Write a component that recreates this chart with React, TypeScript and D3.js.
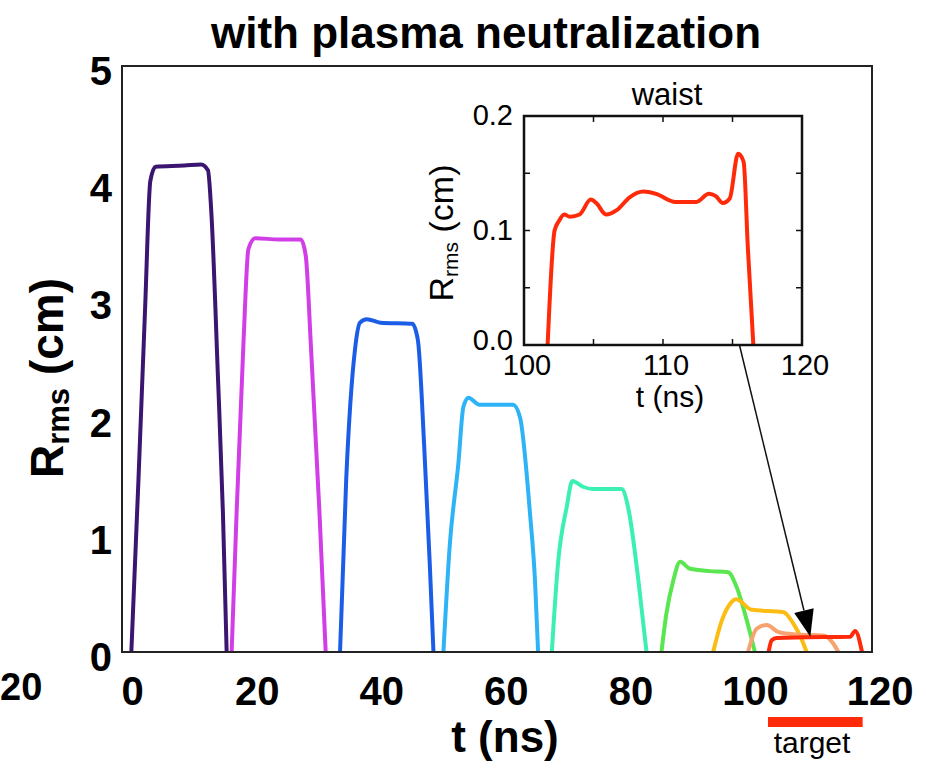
import * as d3 from "d3";

const W = 937;
const H = 763;

// beam radius snapshots along the drift, [t (ns), R_rms (cm)]
const pulse1 = [[-0.2, 0], [0.95, 1.48], [2.0, 2.92], [2.85, 4.02], [3.7, 4.14], [8.3, 4.15], [11.0, 4.16], [12.1, 4.11], [12.6, 3.79], [13.7, 2.35], [14.5, 1.19], [15.1, 0]];
const pulse2 = [[15.9, 0], [16.7, 1.19], [17.8, 2.64], [18.6, 3.44], [19.7, 3.53], [23.5, 3.52], [27.0, 3.52], [27.8, 3.38], [28.6, 2.64], [30.0, 1.19], [31.0, 0]];
const pulse3 = [[33.3, 0], [34.3, 1.48], [35.7, 2.58], [36.5, 2.81], [37.6, 2.84], [39.8, 2.81], [44.9, 2.8], [45.8, 2.66], [46.8, 1.77], [47.7, 0.76], [48.3, 0]];
const pulse4 = [[49.9, 0], [50.9, 0.9], [52.3, 1.61], [53.1, 2.09], [53.9, 2.17], [55.7, 2.11], [61.1, 2.11], [62.2, 2.0], [63.8, 1.18], [64.6, 0.61], [65.1, 0]];
const pulse5 = [[67.3, 0], [68.3, 0.76], [69.7, 1.24], [70.6, 1.46], [72.3, 1.41], [73.9, 1.39], [78.5, 1.39], [79.6, 1.22], [81.2, 0.61], [82.5, 0]];
const pulse6 = [[84.9, 0], [85.7, 0.33], [86.8, 0.61], [87.9, 0.77], [89.5, 0.71], [92.7, 0.69], [95.6, 0.68], [97.0, 0.55], [98.6, 0.27], [99.9, 0]];
const pulse7 = [[93.2, 0], [94.6, 0.27], [95.9, 0.41], [96.9, 0.45], [99.4, 0.36], [104.5, 0.34], [106.1, 0.24], [107.4, 0.11], [108.2, 0]];
const pulse8 = [[98.8, 0], [100.2, 0.2], [101.8, 0.23], [103.7, 0.17], [106.6, 0.15], [110.9, 0.14], [112.5, 0.07], [113.3, 0]];
const pulse9 = [[102.1, 0], [102.6, 0.1], [103.4, 0.12], [107.7, 0.125], [115.2, 0.13], [116.0, 0.18], [117.1, 0]];

const pulses = [pulse1, pulse2, pulse3, pulse4, pulse5, pulse6, pulse7, pulse8, pulse9];
const pulseColors = ["#3b1670", "#d23ee6", "#1c5de8", "#2eb4f6", "#3cf0b4", "#5ae650", "#fbbd14", "#f6a370", "#ff2a0a"];

const xTicks = [0, 20, 40, 60, 80, 100, 120];
const yTicks = [0, 1, 2, 3, 4, 5];

// zoom on the last snapshot (the waist)
const waist = [[101.7, 0], [102.2, 0.1], [102.5, 0.108], [102.9, 0.114], [103.3, 0.112], [104.0, 0.114], [104.8, 0.127], [105.2, 0.124], [105.9, 0.114], [106.7, 0.118], [107.6, 0.129], [108.6, 0.134], [109.5, 0.132], [110.9, 0.125], [112.4, 0.125], [113.3, 0.132], [113.8, 0.13], [114.3, 0.124], [114.8, 0.128], [115.4, 0.167], [115.8, 0.16], [116.1, 0.086], [116.5, 0]];
const insetXTicks = [100, 110, 120];
const insetYTicks = [0, 0.1, 0.2];

const targetSpan = [102, 117.2];
const arrowFrom = [115.5, 0]; // inset coords
const arrowTo = [108.8, 0.13]; // main coords

const font = "'Liberation Sans', Arial, Helvetica, sans-serif";

export default function App() {
  const x = d3.scaleLinear().domain([-1.7, 118.7]).range([122, 872]);
  const y = d3.scaleLinear().domain([0, 5]).range([652, 66]);
  const line = d3
    .line<number[]>()
    .x((d) => x(d[0]))
    .y((d) => y(d[1]))
    .curve(d3.curveMonotoneX);

  const ix = d3.scaleLinear().domain([100, 120]).range([524, 802]);
  const iy = d3.scaleLinear().domain([0, 0.2]).range([345, 116]);
  const iline = d3
    .line<number[]>()
    .x((d) => ix(d[0]))
    .y((d) => iy(d[1]))
    .curve(d3.curveMonotoneX);

  // arrow from the inset down to the red trace
  const ax0 = ix(arrowFrom[0]);
  const ay0 = iy(arrowFrom[1]);
  const ax1 = x(arrowTo[0]);
  const ay1 = y(arrowTo[1]);
  const len = Math.hypot(ax1 - ax0, ay1 - ay0);
  const ux = (ax1 - ax0) / len;
  const uy = (ay1 - ay0) / len;
  const headL = 27;
  const headW = 10;
  const bx = ax1 - ux * headL;
  const by = ay1 - uy * headL;
  const head = `${ax1},${ay1} ${bx - uy * headW},${by + ux * headW} ${bx + uy * headW},${by - ux * headW}`;

  const minorX = ix.ticks(4).filter((t) => t > 100 && t < 120);
  const minorY = iy.ticks(4).filter((t) => t > 0 && t < 0.2);

  return (
    <svg
      width={W}
      height={H}
      style={{ position: "absolute", left: 0, top: 0, background: "#fff" }}
      fontFamily={font}
    >
      <defs>
        <clipPath id="main-clip">
          <rect x={x.range()[0]} y={y.range()[1]} width={x.range()[1] - x.range()[0]} height={y.range()[0] - y.range()[1]} />
        </clipPath>
        <clipPath id="inset-clip">
          <rect x={ix.range()[0]} y={iy.range()[1]} width={ix.range()[1] - ix.range()[0]} height={iy.range()[0] - iy.range()[1]} />
        </clipPath>
      </defs>

      <text x={486} y={48} textAnchor="middle" fontSize={44} fontWeight="bold">
        with plasma neutralization
      </text>

      {/* main curves */}
      <g clipPath="url(#main-clip)">
        {pulses.map((p, i) => (
          <path key={i} d={line(p) ?? ""} fill="none" stroke={pulseColors[i]} strokeWidth={4} strokeLinejoin="round" strokeLinecap="round" />
        ))}
      </g>
      <rect
        x={x.range()[0]}
        y={y.range()[1]}
        width={x.range()[1] - x.range()[0]}
        height={y.range()[0] - y.range()[1]}
        fill="none"
        stroke="#222"
        strokeWidth={2}
      />

      {xTicks.map((t) => (
        <text key={t} x={x(t)} y={705} textAnchor="middle" fontSize={40} fontWeight="bold">
          {t}
        </text>
      ))}
      {yTicks.map((t) => (
        <text key={t} x={112} y={y(t) + 19} textAnchor="end" fontSize={40} fontWeight="bold">
          {t}
        </text>
      ))}
      {/* visible tail of the neighbouring panel's last tick label */}
      <text x={0} y={700} fontSize={38} fontWeight="bold">
        20
      </text>

      <text x={505} y={752} textAnchor="middle" fontSize={44} fontWeight="bold">
        t (ns)
      </text>
      <text transform="translate(63,378) rotate(-90)" textAnchor="middle" fontSize={46} fontWeight="bold">
        R
        <tspan fontSize={31} dy={6}>
          rms
        </tspan>
        <tspan dy={-6}> (cm)</tspan>
      </text>

      {/* target bar */}
      <line x1={x(targetSpan[0])} x2={x(targetSpan[1])} y1={722} y2={722} stroke="#ff2a0a" strokeWidth={10} />
      <text x={812} y={753} textAnchor="middle" fontSize={30}>
        target
      </text>

      {/* inset */}
      <g clipPath="url(#inset-clip)">
        <path d={iline(waist) ?? ""} fill="none" stroke="#ff2a0a" strokeWidth={4} strokeLinejoin="round" />
      </g>
      {minorX.map((t) => (
        <g key={t} stroke="#111" strokeWidth={1.5}>
          <line x1={ix(t)} x2={ix(t)} y1={iy(0)} y2={iy(0) - 6} />
          <line x1={ix(t)} x2={ix(t)} y1={iy(0.2)} y2={iy(0.2) + 6} />
        </g>
      ))}
      {minorY.map((t) => (
        <g key={t} stroke="#111" strokeWidth={1.5}>
          <line x1={ix(100)} x2={ix(100) + 6} y1={iy(t)} y2={iy(t)} />
          <line x1={ix(120)} x2={ix(120) - 6} y1={iy(t)} y2={iy(t)} />
        </g>
      ))}
      <rect
        x={ix.range()[0]}
        y={iy.range()[1]}
        width={ix.range()[1] - ix.range()[0]}
        height={iy.range()[0] - iy.range()[1]}
        fill="none"
        stroke="#111"
        strokeWidth={2.5}
      />
      {insetXTicks.map((t) => (
        <text key={t} x={ix(t) + 3} y={375} textAnchor="middle" fontSize={29}>
          {t}
        </text>
      ))}
      {insetYTicks.map((t) => (
        <text key={t} x={513} y={iy(t) + (t === 0 ? 5 : 9)} textAnchor="end" fontSize={29}>
          {d3.format(".1f")(t)}
        </text>
      ))}
      <text x={667} y={105} textAnchor="middle" fontSize={31}>
        waist
      </text>
      <text x={670} y={407} textAnchor="middle" fontSize={30}>
        t (ns)
      </text>
      <text transform="translate(453,233) rotate(-90)" textAnchor="middle" fontSize={34}>
        R
        <tspan fontSize={21} dy={5}>
          rms
        </tspan>
        <tspan dy={-5}> (cm)</tspan>
      </text>

      <line x1={ax0} y1={ay0} x2={bx} y2={by} stroke="#111" strokeWidth={1.5} />
      <polygon points={head} fill="#000" />
    </svg>
  );
}
